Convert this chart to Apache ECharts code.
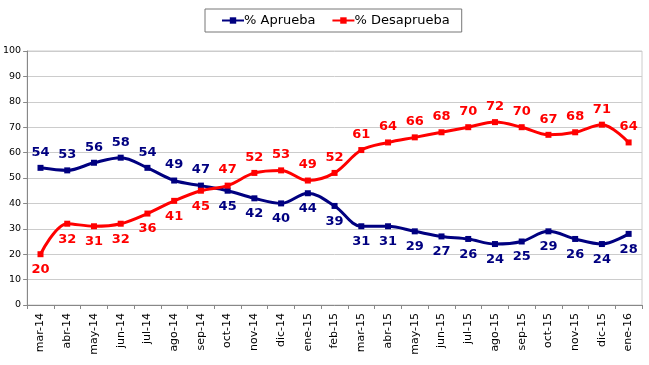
<!DOCTYPE html>
<html><head><meta charset="utf-8">
<script src="https://cdn.jsdelivr.net/npm/echarts@6/dist/echarts.min.js"></script>
<style>html,body{margin:0;padding:0;background:#fff}#c{width:649px;height:365px}</style>
</head><body><div id="c"></div>
<script>
const categories = ['mar-14','abr-14','may-14','jun-14','jul-14','ago-14','sep-14','oct-14','nov-14','dic-14','ene-15','feb-15','mar-15','abr-15','may-15','jun-15','jul-15','ago-15','sep-15','oct-15','nov-15','dic-15','ene-16'];
const aprueba = [54,53,56,58,54,49,47,45,42,40,44,39,31,31,29,27,26,24,25,29,26,24,28];
const desaprueba = [20,32,31,32,36,41,45,47,52,53,49,52,61,64,66,68,70,72,70,67,68,71,64];
const apruebaAbove = 7;   // first 7 labels above
const desapruebaBelow = 7; // first 7 labels below

const chart = echarts.init(document.getElementById('c'));
const font = 'DejaVu Sans';
function mk(vals, aboveFn){
  return vals.map((v,i)=>({value:v,label:{position: aboveFn(i)?'top':'bottom'}}));
}
chart.setOption({
  animation:false,
  textStyle:{fontFamily:font},
  legend:{
    top:9, left:205, itemGap:16,
    borderColor:'#777', borderWidth:1, padding:[5,12,5,16],
    itemWidth:22, itemHeight:8,
    textStyle:{fontFamily:font, fontSize:13, color:'#000', padding:[0,0,0,-5]},
    data:['% Aprueba','% Desaprueba']
  },
  grid:{left:25, right:7, top:51, bottom:60, show:true, borderColor:'#ccc', borderWidth:1},
  xAxis:{
    type:'category', data:categories, boundaryGap:true,
    axisLine:{lineStyle:{color:'#888'}},
    axisTick:{show:true, lineStyle:{color:'#888'}, length:4},
    axisLabel:{rotate:90, fontSize:11, color:'#000', fontFamily:font, margin:8, interval:0}
  },
  yAxis:{
    type:'value', min:0, max:100, interval:10,
    axisLine:{show:true, lineStyle:{color:'#888'}},
    axisTick:{show:true, lineStyle:{color:'#888'}, length:4},
    splitLine:{lineStyle:{color:'#ccc'}},
    axisLabel:{fontSize:9.5, color:'#000', fontFamily:font, margin:6}
  },
  series:[
    {name:'% Aprueba', type:'line', smooth:0.35, data:mk(aprueba,i=>i<apruebaAbove),
     symbol:'rect', symbolSize:6, color:'#000080',
     lineStyle:{width:3, color:'#000080'}, itemStyle:{color:'#000080'},
     label:{show:true, fontSize:13, fontWeight:'bold', color:'#000080', fontFamily:font, distance:6}},
    {name:'% Desaprueba', type:'line', smooth:0.35, data:mk(desaprueba,i=>i>=desapruebaBelow),
     symbol:'rect', symbolSize:6, color:'#ff0000',
     lineStyle:{width:3, color:'#ff0000'}, itemStyle:{color:'#ff0000'},
     label:{show:true, fontSize:13, fontWeight:'bold', color:'#ff0000', fontFamily:font, distance:6}}
  ]
});
</script></body></html>
